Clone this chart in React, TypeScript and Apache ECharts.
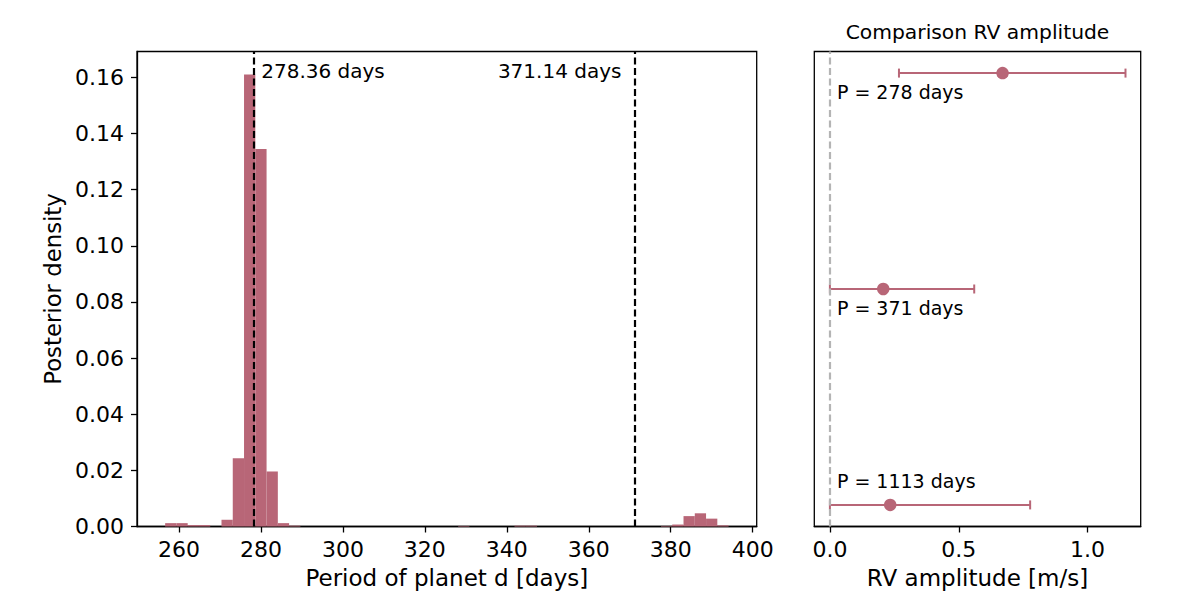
import React, { useEffect, useRef } from "react";
import * as echarts from "echarts";

// ---------- data ----------
const binStart = 256.62;
const binWidth = 2.75;
const densities = [
  0.0012, 0.0012, 0.0005, 0.0005, 0.0, 0.0024, 0.0243, 0.161, 0.1345, 0.0196,
  0.0012, 0.0003, 0.0, 0.0, 0.0, 0.0, 0.0, 0.0, 0.0, 0.0,
  0.0, 0.0, 0.0, 0.0, 0.0, 0.0, 0.0002, 0.0, 0.0, 0.0,
  0.0, 0.0003, 0.0003, 0.0, 0.0, 0.0, 0.0, 0.0, 0.0, 0.0,
  0.0, 0.0, 0.0, 0.0, 0.0002, 0.0007, 0.0037, 0.0047, 0.0028, 0.0004,
];
const xTicks = [260, 280, 300, 320, 340, 360, 380, 400];
const yTicks = [0, 0.02, 0.04, 0.06, 0.08, 0.1, 0.12, 0.14, 0.16];
const periodLines = [278.36, 371.14];
const periodLineLabels = ["278.36 days", "371.14 days"];

const rvRows = [2, 1, 0];
const rvMedian = [0.67, 0.207, 0.234];
const rvLow = [0.268, 0.0, 0.0];
const rvHigh = [1.147, 0.56, 0.777];
const rvLabels = ["P = 278 days", "P = 371 days", "P = 1113 days"];
const rvTicks = [0, 0.5, 1.0];

// ---------- style ----------
const FONT = "DejaVu Sans";
const BAR = "#b86677";

export default function App() {
  const ref = useRef<HTMLDivElement>(null);

  useEffect(() => {
    if (!ref.current) return;
    const chart = echarts.init(ref.current, null, { renderer: "svg" });

    const binEdges = densities.map((_, i) => binStart + i * binWidth);
    const histData = densities.map((d, i) => [binEdges[i], binEdges[i] + binWidth, d]);

    const axisLineStyle = { color: "#000", width: 1.3 };

    const option: any = {
      animation: false,
      backgroundColor: "#fff",
      grid: [
        { left: 137, top: 51.5, width: 619.7, height: 475, show: true, borderColor: "#000", borderWidth: 1.3, backgroundColor: "transparent" },
        { left: 814.3, top: 51.5, width: 326.4, height: 475, show: true, borderColor: "#000", borderWidth: 1.3, backgroundColor: "transparent" },
      ],
      graphic: [
        {
          type: "text",
          x: 977.5,
          y: 32,
          style: {
            text: "Comparison RV amplitude",
            fontSize: 20.3,
            fontFamily: FONT,
            fill: "#000",
            align: "center",
            verticalAlign: "middle",
            textAlign: "center",
            textVerticalAlign: "middle",
          },
        },
      ],
      xAxis: [
        {
          gridIndex: 0,
          type: "value",
          min: 249.75,
          max: 400.98,
          name: "Period of planet d [days]",
          nameLocation: "middle",
          nameGap: 40,
          nameTextStyle: { fontSize: 23, fontFamily: FONT, color: "#000" },
          axisLine: { show: true, onZero: false, lineStyle: axisLineStyle },
          axisTick: { show: true, length: 6, lineStyle: axisLineStyle, customValues: xTicks },
          axisLabel: { fontSize: 22, fontFamily: FONT, color: "#000", margin: 12, customValues: xTicks, formatter: (v: number) => String(v) },
          splitLine: { show: false },
        },
        {
          gridIndex: 1,
          type: "value",
          min: -0.0605,
          max: 1.206,
          name: "RV amplitude [m/s]",
          nameLocation: "middle",
          nameGap: 40,
          nameTextStyle: { fontSize: 23, fontFamily: FONT, color: "#000" },
          axisLine: { show: true, onZero: false, lineStyle: axisLineStyle },
          axisTick: { show: true, length: 6, lineStyle: axisLineStyle, customValues: rvTicks },
          axisLabel: { fontSize: 22, fontFamily: FONT, color: "#000", margin: 12, customValues: rvTicks, formatter: (v: number) => v.toFixed(1) },
          splitLine: { show: false },
        },
      ],
      yAxis: [
        {
          gridIndex: 0,
          type: "value",
          min: 0,
          max: 0.1692,
          name: "Posterior density",
          nameLocation: "middle",
          nameGap: 67,
          nameTextStyle: { fontSize: 22.8, fontFamily: FONT, color: "#000" },
          axisLine: { show: true, onZero: false, lineStyle: axisLineStyle },
          axisTick: { show: true, length: 6, lineStyle: axisLineStyle, customValues: yTicks },
          axisLabel: { fontSize: 22, fontFamily: FONT, color: "#000", margin: 13, customValues: yTicks, formatter: (v: number) => v.toFixed(2) },
          splitLine: { show: false },
        },
        {
          gridIndex: 1,
          type: "value",
          min: -0.1,
          max: 2.1,
          axisLine: { show: false },
          axisTick: { show: false },
          axisLabel: { show: false },
          splitLine: { show: false },
        },
      ],
      series: [
        {
          type: "custom",
          xAxisIndex: 0,
          yAxisIndex: 0,
          data: histData,
          encode: { x: [0, 1], y: 2 },
          renderItem: (params: any, api: any) => {
            const x0 = api.value(0);
            const x1 = api.value(1);
            const h = api.value(2);
            if (!(h > 0)) return null;
            const p0 = api.coord([x0, h]);
            const p1 = api.coord([x1, 0]);
            return {
              type: "rect",
              shape: { x: p0[0], y: p0[1], width: p1[0] - p0[0], height: p1[1] - p0[1] },
              style: { fill: BAR },
            };
          },
          markLine: {
            silent: true,
            symbol: "none",
            label: { show: false },
            lineStyle: { color: "#000", type: [7, 3.5], width: 2.2 },
            data: periodLines.map((v) => ({ xAxis: v })),
          },
          z: 2,
        },
        {
          type: "custom",
          xAxisIndex: 0,
          yAxisIndex: 0,
          data: periodLines.map((v, i) => [v, 0.1623, i]),
          encode: { x: 0, y: 1 },
          renderItem: (params: any, api: any) => {
            const i = api.value(2);
            const p = api.coord([api.value(0), api.value(1)]);
            const left = i === 0;
            return {
              type: "text",
              x: p[0] + (left ? 7 : -13),
              y: p[1],
              style: {
                text: periodLineLabels[i],
                fontSize: 20,
                fontFamily: FONT,
                fill: "#000",
                align: left ? "left" : "right",
                verticalAlign: "middle",
              },
            };
          },
          z: 5,
        },
        {
          type: "custom",
          xAxisIndex: 1,
          yAxisIndex: 1,
          data: rvRows.map((r, i) => [rvLow[i], rvHigh[i], r]),
          encode: { x: [0, 1], y: 2 },
          renderItem: (params: any, api: any) => {
            const a = api.coord([api.value(0), api.value(2)]);
            const b = api.coord([api.value(1), api.value(2)]);
            const st = { stroke: BAR, lineWidth: 2 };
            const cap = 4.5;
            return {
              type: "group",
              children: [
                { type: "line", shape: { x1: a[0], y1: a[1], x2: b[0], y2: b[1] }, style: st },
                { type: "line", shape: { x1: a[0], y1: a[1] - cap, x2: a[0], y2: a[1] + cap }, style: st },
                { type: "line", shape: { x1: b[0], y1: b[1] - cap, x2: b[0], y2: b[1] + cap }, style: st },
              ],
            };
          },
          markLine: {
            silent: true,
            symbol: "none",
            label: { show: false },
            lineStyle: { color: "#b4b4b4", type: [7, 3.5], width: 2.2 },
            data: [{ xAxis: 0 }],
          },
          z: 3,
        },
        {
          type: "scatter",
          xAxisIndex: 1,
          yAxisIndex: 1,
          symbol: "circle",
          symbolSize: 12.5,
          itemStyle: { color: BAR, opacity: 1 },
          data: rvRows.map((r, i) => [rvMedian[i], r]),
          z: 4,
        },
        {
          type: "custom",
          xAxisIndex: 1,
          yAxisIndex: 1,
          data: rvRows.map((r, i) => [0, r, i]),
          encode: { x: 0, y: 1 },
          renderItem: (params: any, api: any) => {
            const i = api.value(2);
            const p = api.coord([api.value(0), api.value(1)]);
            const above = i === rvRows.length - 1;
            return {
              type: "text",
              x: p[0] + 7,
              y: p[1] + (above ? -23.5 : 19),
              style: {
                text: rvLabels[i],
                fontSize: 19,
                fontFamily: FONT,
                fill: "#000",
                align: "left",
                verticalAlign: "middle",
              },
            };
          },
          z: 5,
        },
      ],
    };

    chart.setOption(option);
    return () => chart.dispose();
  }, []);

  return (
    <div
      ref={ref}
      style={{ position: "absolute", left: 0, top: 0, width: 1200, height: 616, background: "#fff" }}
    />
  );
}
